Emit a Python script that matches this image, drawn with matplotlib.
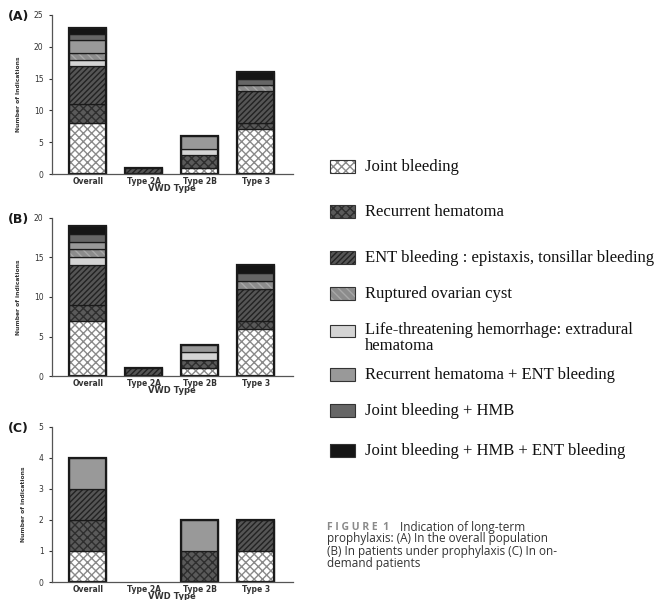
import matplotlib
matplotlib.use('Agg')
import matplotlib.pyplot as plt
from matplotlib.patches import Rectangle
import numpy as np

groups = ['Overall', 'Type 2A', 'Type 2B', 'Type 3']

# stacking order, bottom to top
stack_order = ['joint', 'rechem', 'ent', 'life', 'ovarian', 'rechem_ent', 'joint_hmb', 'joint_hmb_ent']

# (A) overall population
a_joint = [8, 0, 1, 7]
a_rechem = [3, 0, 2, 1]
a_ent = [6, 1, 0, 5]
a_life = [1, 0, 1, 0]
a_ovarian = [1, 0, 0, 1]
a_rechem_ent = [2, 0, 2, 0]
a_joint_hmb = [1, 0, 0, 1]
a_joint_hmb_ent = [1, 0, 0, 1]

# (B) patients under prophylaxis
b_joint = [7, 0, 1, 6]
b_rechem = [2, 0, 1, 1]
b_ent = [5, 1, 0, 4]
b_life = [1, 0, 1, 0]
b_ovarian = [1, 0, 0, 1]
b_rechem_ent = [1, 0, 1, 0]
b_joint_hmb = [1, 0, 0, 1]
b_joint_hmb_ent = [1, 0, 0, 1]

# (C) on-demand patients
c_joint = [1, 0, 0, 1]
c_rechem = [1, 0, 1, 0]
c_ent = [1, 0, 0, 1]
c_life = [0, 0, 0, 0]
c_ovarian = [0, 0, 0, 0]
c_rechem_ent = [1, 0, 1, 0]
c_joint_hmb = [0, 0, 0, 0]
c_joint_hmb_ent = [0, 0, 0, 0]

legend_keys = ['joint', 'rechem', 'ent', 'ovarian', 'life', 'rechem_ent', 'joint_hmb', 'joint_hmb_ent']
legend_labels = ['Joint bleeding', 'Recurrent hematoma',
                 'ENT bleeding : epistaxis, tonsillar bleeding', 'Ruptured ovarian cyst',
                 'Life-threatening hemorrhage: extradural\nhematoma',
                 'Recurrent hematoma + ENT bleeding', 'Joint bleeding + HMB',
                 'Joint bleeding + HMB + ENT bleeding']

# face colour, hatch, hatch colour
style = {
  'joint': ('#ffffff', 'xxxx', '#8a8a8a'),
  'rechem': ('#5a5a5a', 'xxxx', '#2e2e2e'),
  'ent': ('#555555', '//////', '#222222'),
  'ovarian': ('#8c8c8c', '\\\\\\\\', '#a8a8a8'),
  'life': ('#d4d4d4', None, None),
  'rechem_ent': ('#999999', None, None),
  'joint_hmb': ('#666666', None, None),
  'joint_hmb_ent': ('#151515', None, None),
}

panels = [
  ('(A)', 'Number of Indications', 25, 5,
   [a_joint, a_rechem, a_ent, a_life, a_ovarian, a_rechem_ent, a_joint_hmb, a_joint_hmb_ent],
   [0.078, 0.710, 0.363, 0.265]),
  ('(B)', 'Number of indications', 20, 5,
   [b_joint, b_rechem, b_ent, b_life, b_ovarian, b_rechem_ent, b_joint_hmb, b_joint_hmb_ent],
   [0.078, 0.373, 0.363, 0.264]),
  ('(C)', 'Number of indications', 5, 1,
   [c_joint, c_rechem, c_ent, c_life, c_ovarian, c_rechem_ent, c_joint_hmb, c_joint_hmb_ent],
   [0.078, 0.030, 0.363, 0.259]),
]

txt = '#333333'
fig = plt.figure(figsize=(6.64, 6.00), dpi=100)
x = np.arange(len(groups))
width = 0.66

for tag, ylabel, ymax, step, series, rect in panels:
  ax = fig.add_axes(rect)
  bottom = np.zeros(len(groups))
  for key, vals in zip(stack_order, series):
    vals = np.array(vals, dtype=float)
    m = vals > 0
    face, hatch, hcol = style[key]
    if m.any():
      ax.bar(x[m], vals[m], width, bottom=bottom[m], color=face, hatch=hatch,
             edgecolor=hcol if hcol else face, linewidth=0)
      ax.bar(x[m], vals[m], width, bottom=bottom[m], fill=False, edgecolor='#1a1a1a', linewidth=0.9)
    bottom += vals
  # outer outline of each stack
  m = bottom > 0
  ax.bar(x[m], bottom[m], width, fill=False, edgecolor='#1a1a1a', linewidth=1.6)
  ax.set_xlim(-0.64, 3.66)
  ax.set_ylim(0, ymax)
  ax.set_yticks(np.arange(0, ymax + 0.1, step))
  ax.set_xticks(x)
  ax.set_xticklabels(groups, fontsize=5.5, fontweight='bold', color=txt)
  ax.tick_params(axis='y', labelsize=5.5, colors=txt, length=2.5, width=0.8)
  ax.tick_params(axis='x', length=0, pad=2)
  for s in ['top', 'right']:
    ax.spines[s].set_visible(False)
  for s in ['left', 'bottom']:
    ax.spines[s].set_color('#555555')
    ax.spines[s].set_linewidth(0.9)
  ax.set_xlabel('VWD Type', fontsize=6, fontweight='bold', color=txt, labelpad=-1.5)
  ax.set_ylabel(ylabel, fontsize=4.3, fontweight='bold', color=txt, labelpad=9)
  fig.text(0.012, rect[1] + rect[3] - 0.003, tag, fontsize=9, fontweight='bold', color='#1a1a1a', va='center')

# legend drawn by hand to keep its uneven spacing
leg_y = [167, 212, 258, 294, 338, 375, 411, 451]
for key, label, yp in zip(legend_keys, legend_labels, leg_y):
  face, hatch, hcol = style[key]
  fy = 1 - yp / 600
  top_line = fy if '\n' not in label else fy + 0.011
  r = Rectangle((330 / 664, top_line - 0.010), 25 / 664, 0.021, transform=fig.transFigure,
                facecolor=face, hatch=hatch, edgecolor=hcol if hcol else face, linewidth=0)
  fig.add_artist(r)
  fig.add_artist(Rectangle((330 / 664, top_line - 0.010), 25 / 664, 0.021, transform=fig.transFigure,
                           fill=False, edgecolor='#333333', linewidth=0.8))
  fig.text(365 / 664, fy, label, fontsize=12, family='Liberation Serif', color='#111111',
           va='center', linespacing=1.0)

# caption
fig.text(327 / 664, 1 - 527 / 600, 'F I G U R E  1', fontsize=7.5, fontweight='bold',
         color='#8a8a8a', family='Open Sans', va='center')
fig.text(400 / 664, 1 - 527 / 600, 'Indication of long-term', fontsize=8.5,
         color='#333333', family='Open Sans', va='center')
fig.text(327 / 664, 1 - 532 / 600,
         'prophylaxis: (A) In the overall population\n(B) In patients under prophylaxis (C) In on-\ndemand patients',
         fontsize=8.5, color='#333333', family='Open Sans', va='top', linespacing=0.95)

fig.savefig('out.png', dpi=100)
